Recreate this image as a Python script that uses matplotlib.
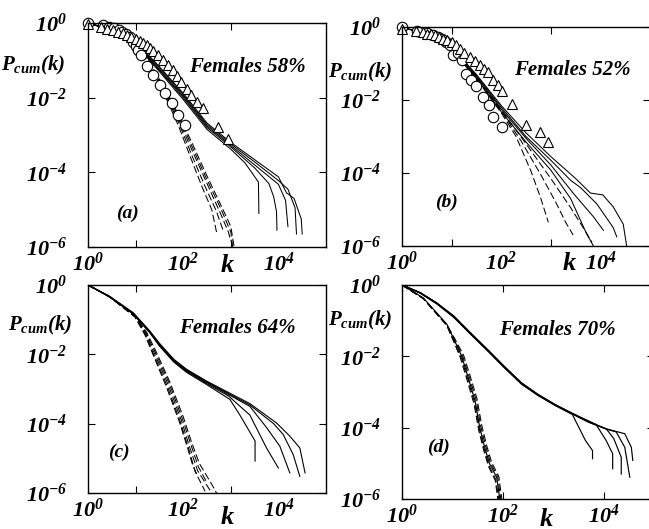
import matplotlib
matplotlib.use('Agg')
import matplotlib.pyplot as plt
from matplotlib.ticker import FixedLocator, NullFormatter
import numpy as np

plt.rcParams['font.family'] = 'Liberation Serif'
plt.rcParams['mathtext.fontset'] = 'custom'
plt.rcParams['mathtext.rm'] = 'Liberation Serif:bold:italic'
plt.rcParams['mathtext.it'] = 'Liberation Serif:bold:italic'
plt.rcParams['mathtext.bf'] = 'Liberation Serif:bold:italic'

# all curves as (log10 k, log10 Pcum) points
a_solid = [
    [(0, 0), (0.5, -0.2), (1, -0.58), (1.5, -1.3), (2, -2.05), (2.5, -2.85), (3, -3.38), (3.3, -3.75), (3.58, -4.26), (3.59, -5.1)],
    [(0, 0), (0.5, -0.2), (1, -0.56), (1.5, -1.27), (2, -2.0), (2.5, -2.8), (3, -3.32), (3.5, -3.88), (3.8, -4.3), (3.9, -4.65), (3.96, -5.05), (3.97, -5.55)],
    [(0, 0), (0.5, -0.19), (1, -0.55), (1.5, -1.24), (2, -1.96), (2.5, -2.76), (3, -3.28), (3.5, -3.8), (4.0, -4.32), (4.15, -4.75), (4.2, -5.45)],
    [(0, 0), (0.5, -0.18), (1, -0.53), (1.5, -1.2), (2, -1.92), (2.5, -2.72), (3, -3.24), (3.5, -3.72), (4.0, -4.22), (4.2, -4.45), (4.35, -4.95), (4.38, -5.65)],
    [(0, 0), (0.5, -0.17), (1, -0.5), (1.5, -1.17), (2, -1.88), (2.5, -2.68), (3, -3.2), (3.5, -3.66), (4.0, -4.12), (4.17, -4.55), (4.33, -4.7), (4.48, -5.25), (4.5, -5.65)],
]
a_dashed = [
    [(0, 0), (0.5, -0.2), (1, -0.62), (1.3, -1.15), (1.6, -1.9), (1.9, -2.75), (2.2, -3.75), (2.4, -4.4), (2.6, -5.0), (2.7, -5.6)],
    [(0, 0), (0.5, -0.2), (1, -0.61), (1.3, -1.12), (1.6, -1.85), (1.9, -2.65), (2.2, -3.6), (2.45, -4.35), (2.7, -5.05), (2.85, -5.6)],
    [(0, 0), (0.5, -0.2), (1, -0.6), (1.3, -1.1), (1.6, -1.8), (1.9, -2.58), (2.2, -3.45), (2.5, -4.3), (2.8, -5.15), (2.95, -5.6), (3.0, -5.85)],
    [(0, 0), (0.5, -0.2), (1, -0.6), (1.3, -1.08), (1.6, -1.76), (1.9, -2.5), (2.2, -3.35), (2.5, -4.2), (2.8, -5.0), (3.0, -5.6), (3.04, -6.0)],
    [(0, 0), (0.5, -0.2), (1, -0.59), (1.3, -1.06), (1.6, -1.72), (1.9, -2.45), (2.2, -3.25), (2.5, -4.1), (2.8, -4.9), (3.0, -5.45), (3.07, -6.0)],
]
a_circles = [(0, 0), (0.32, -0.06), (0.45, -0.1), (0.55, -0.14), (0.65, -0.2), (0.72, -0.25), (0.8, -0.3),
             (0.88, -0.38), (0.95, -0.5), (1.0, -0.62), (1.05, -0.72), (1.12, -0.85), (1.24, -1.16),
             (1.37, -1.39), (1.52, -1.66), (1.62, -1.88), (1.77, -2.15), (1.9, -2.47), (2.03, -2.73)]
a_triangles = [(0, -0.03), (0.28, -0.12), (0.4, -0.16), (0.53, -0.2), (0.62, -0.24), (0.74, -0.28), (0.82, -0.32),
               (0.91, -0.37), (1.0, -0.42), (1.09, -0.48), (1.16, -0.53), (1.23, -0.6), (1.3, -0.67),
               (1.37, -0.74), (1.47, -0.86), (1.58, -1.0), (1.68, -1.13), (1.79, -1.27), (1.88, -1.42),
               (1.96, -1.58), (2.07, -1.77), (2.17, -1.94), (2.3, -2.12), (2.42, -2.29), (2.73, -2.79), (2.95, -3.1)]

b_solid = [
    [(0, 0), (0.5, -0.2), (1, -0.55), (1.5, -1.3), (2, -2.15), (2.5, -2.9), (3, -3.55), (3.5, -4.15), (3.8, -4.55), (4.05, -4.6), (4.26, -4.93), (4.46, -5.4), (4.53, -6.0)],
    [(0, 0), (0.5, -0.2), (1, -0.57), (1.5, -1.33), (2, -2.2), (2.5, -3.0), (3, -3.65), (3.4, -4.2), (3.6, -4.4), (3.93, -4.85), (4.26, -5.5), (4.33, -5.75)],
    [(0, 0), (0.5, -0.21), (1, -0.58), (1.5, -1.36), (2, -2.25), (2.5, -3.05), (3, -3.78), (3.45, -4.55), (3.86, -5.2), (4.06, -5.57)],
    [(0, 0), (0.5, -0.21), (1, -0.6), (1.5, -1.4), (2, -2.32), (2.5, -3.15), (3, -3.92), (3.4, -4.7), (3.72, -5.66), (3.86, -6.0)],
]
b_dashed = [
    [(0, 0), (0.5, -0.22), (1, -0.62), (1.5, -1.42), (2.0, -2.35), (2.3, -3.0), (2.6, -3.95), (2.8, -4.7), (2.95, -5.35)],
    [(0, 0), (0.5, -0.22), (1, -0.61), (1.5, -1.4), (2.0, -2.3), (2.4, -3.12), (2.8, -4.05), (3.1, -4.8), (3.3, -5.35), (3.45, -5.7)],
    [(0, 0), (0.5, -0.21), (1, -0.6), (1.5, -1.38), (2.0, -2.27), (2.5, -3.2), (3.0, -4.15), (3.4, -4.95), (3.7, -5.6), (3.83, -5.9)],
]
b_circles = [(0, 0), (0.3, -0.1), (0.5, -0.16), (0.62, -0.22), (0.72, -0.27), (0.8, -0.32), (0.88, -0.4),
             (0.97, -0.49), (1.03, -0.77), (1.12, -0.72), (1.2, -0.9), (1.3, -1.3), (1.4, -1.45), (1.5, -1.62),
             (1.64, -1.92), (1.75, -2.15), (1.84, -2.47), (2.02, -2.74)]
b_triangles = [(0, -0.05), (0.29, -0.12), (0.42, -0.15), (0.5, -0.18), (0.58, -0.2), (0.66, -0.23), (0.74, -0.27),
               (0.83, -0.32), (0.9, -0.36), (1.0, -0.41), (1.08, -0.5), (1.16, -0.59), (1.26, -0.7),
               (1.37, -0.82), (1.47, -0.93), (1.57, -1.05), (1.66, -1.15), (1.74, -1.23), (1.84, -1.46),
               (1.93, -1.6), (2.01, -1.74), (2.21, -2.1), (2.51, -2.69), (2.78, -2.88), (2.95, -3.15)]

c_solid = [
    [(0, 0), (0.46, -0.35), (0.95, -0.84), (1.3, -1.38), (1.5, -1.76), (1.8, -2.22), (2.07, -2.52), (2.49, -2.87), (2.98, -3.3), (3.19, -3.75), (3.51, -4.5), (3.51, -5.08)],
    [(0, 0), (0.46, -0.35), (0.95, -0.83), (1.3, -1.37), (1.5, -1.74), (1.8, -2.2), (2.07, -2.49), (2.49, -2.84), (2.95, -3.2), (3.4, -3.75), (3.75, -4.7), (4.0, -5.28)],
    [(0, 0), (0.46, -0.34), (0.95, -0.82), (1.3, -1.36), (1.5, -1.72), (1.8, -2.18), (2.07, -2.47), (2.49, -2.81), (2.95, -3.16), (3.4, -3.5), (3.75, -4.11), (4.03, -4.65), (4.24, -5.42)],
    [(0, 0), (0.46, -0.34), (0.95, -0.81), (1.3, -1.34), (1.5, -1.7), (1.8, -2.16), (2.07, -2.45), (2.49, -2.79), (2.95, -3.13), (3.4, -3.46), (3.9, -4.0), (4.1, -4.31), (4.31, -4.89), (4.45, -5.52)],
    [(0, 0), (0.46, -0.33), (0.95, -0.8), (1.3, -1.33), (1.5, -1.68), (1.8, -2.14), (2.07, -2.43), (2.49, -2.77), (2.95, -3.1), (3.4, -3.42), (3.96, -3.98), (4.24, -4.36), (4.45, -4.7), (4.56, -5.42)],
]
c_dashed = [
    [(0, 0), (0.46, -0.35), (0.99, -0.93), (1.2, -1.45), (1.37, -2.02), (1.65, -2.95), (1.92, -3.95), (2.08, -4.65), (2.2, -5.2), (2.3, -5.5)],
    [(0, 0), (0.46, -0.35), (0.99, -0.92), (1.2, -1.42), (1.37, -1.98), (1.66, -2.9), (1.94, -3.95), (2.11, -4.7), (2.25, -5.38), (2.46, -5.95)],
    [(0, 0), (0.46, -0.34), (0.99, -0.91), (1.21, -1.4), (1.39, -1.96), (1.68, -2.86), (1.96, -3.9), (2.13, -4.65), (2.3, -5.35), (2.6, -6.0)],
    [(0, 0), (0.46, -0.34), (0.99, -0.9), (1.22, -1.38), (1.41, -1.94), (1.7, -2.82), (1.98, -3.85), (2.16, -4.6), (2.32, -5.25), (2.5, -5.7)],
    [(0, 0), (0.46, -0.34), (0.99, -0.9), (1.23, -1.36), (1.43, -1.92), (1.72, -2.8), (2.0, -3.8), (2.18, -4.55), (2.34, -5.15), (2.6, -5.75), (2.7, -6.0)],
]

d_solid = [
    [(0, 0), (0.36, -0.23), (0.69, -0.53), (1.03, -0.91), (1.36, -1.38), (1.7, -1.85), (2.03, -2.32), (2.37, -2.78), (2.7, -3.1), (3.04, -3.38), (3.38, -3.63), (3.64, -4.36), (3.78, -4.64), (3.78, -4.87)],
    [(0, 0), (0.36, -0.22), (0.69, -0.52), (1.03, -0.89), (1.36, -1.36), (1.7, -1.83), (2.03, -2.3), (2.37, -2.76), (2.7, -3.08), (3.04, -3.36), (3.38, -3.6), (3.85, -3.91), (4.05, -4.36), (4.18, -4.73), (4.18, -5.15)],
    [(0, 0), (0.36, -0.22), (0.69, -0.51), (1.03, -0.88), (1.36, -1.35), (1.7, -1.82), (2.03, -2.29), (2.37, -2.75), (2.7, -3.07), (3.04, -3.35), (3.38, -3.6), (3.71, -3.83), (4.05, -4.03), (4.2, -4.3), (4.35, -4.83), (4.35, -5.3)],
    [(0, 0), (0.36, -0.21), (0.69, -0.5), (1.03, -0.87), (1.36, -1.34), (1.7, -1.81), (2.03, -2.28), (2.37, -2.74), (2.7, -3.07), (3.04, -3.36), (3.38, -3.61), (3.71, -3.85), (4.05, -4.04), (4.25, -4.12), (4.42, -4.55), (4.52, -5.39)],
    [(0, 0), (0.36, -0.22), (0.69, -0.51), (1.03, -0.9), (1.36, -1.37), (1.7, -1.84), (2.03, -2.31), (2.37, -2.77), (2.7, -3.09), (3.04, -3.37), (3.38, -3.62), (3.71, -3.85), (4.05, -4.03), (4.42, -4.17), (4.55, -4.55), (4.58, -4.92)],
    # steep branch drawn solid
    [(0, 0), (0.42, -0.36), (0.89, -1.1), (1.01, -1.46), (1.18, -1.98), (1.31, -2.58), (1.45, -3.25), (1.54, -3.98), (1.64, -4.55), (1.74, -5.02), (1.88, -5.4), (1.94, -6.0)],
]
d_dashed = [
    [(0, 0), (0.42, -0.38), (0.89, -1.13), (1.0, -1.5), (1.17, -2.02), (1.3, -2.62), (1.44, -3.3), (1.53, -4.02), (1.63, -4.6), (1.73, -5.08), (1.86, -5.45), (1.92, -6.0)],
    [(0, 0), (0.42, -0.37), (0.89, -1.12), (1.02, -1.47), (1.2, -1.98), (1.33, -2.56), (1.47, -3.22), (1.56, -3.95), (1.66, -4.52), (1.76, -5.0), (1.9, -5.38), (1.96, -6.0)],
    [(0, 0), (0.42, -0.37), (0.89, -1.11), (1.03, -1.46), (1.22, -1.96), (1.35, -2.54), (1.49, -3.2), (1.58, -3.92), (1.68, -4.5), (1.78, -4.98), (1.92, -5.36), (1.98, -6.0)],
    [(0, 0), (0.42, -0.38), (0.89, -1.14), (1.01, -1.52), (1.16, -2.05), (1.29, -2.66), (1.43, -3.34), (1.52, -4.06), (1.62, -4.63), (1.72, -5.1), (1.85, -5.48), (1.9, -6.0)],
]

panel_letters = ['(a)', '(b)', '(c)', '(d)']
female_share = ['Females 58%', 'Females 52%', 'Females 64%', 'Females 70%']

W, H = 649, 529
fig = plt.figure(figsize=(W / 100, H / 100), dpi=100)
fig.patch.set_facecolor('white')


def rect(l, r, t, b):
    return [l / W, 1 - b / H, (r - l) / W, (b - t) / H]


def fpos(x, y):
    return x / W, 1 - y / H


panels = [
    dict(box=rect(88, 326, 23, 247), solid=a_solid, dashed=a_dashed, circ=a_circles, tri=a_triangles,
         odd=True, lw=0.75, pcum=(33, 65), fem=(247, 67), let=(127, 213), k=(227, 266)),
    dict(box=rect(402, 650, 27, 246), solid=b_solid, dashed=b_dashed, circ=b_circles, tri=b_triangles,
         odd=True, lw=0.75, pcum=(360, 72), fem=(572, 70), let=(446, 202), k=(569, 264)),
    dict(box=rect(88, 326, 285, 493), solid=c_solid, dashed=c_dashed, circ=None, tri=None,
         odd=True, lw=0.8, pcum=(40, 325), fem=(237, 328), let=(119, 452), k=(227, 517)),
    dict(box=rect(402, 654, 285, 499), solid=d_solid, dashed=d_dashed, circ=None, tri=None,
         odd=False, lw=0.85, pcum=(360, 320), fem=(557, 330), let=(438, 447), k=(546, 519)),
]


def draw(ax, pts, **kw):
    lk, lp = zip(*pts)
    ax.plot(10 ** np.array(lk), 10 ** np.array(lp), **kw)


for i, p in enumerate(panels):
    ax = fig.add_axes(p['box'])
    ax.set_xscale('log')
    ax.set_yscale('log')
    ax.set_xlim(1, 1e5)
    ax.set_ylim(1e-6, 1)
    for line in p['solid']:
        draw(ax, line, color='black', lw=p['lw'])
    for line in p['dashed']:
        draw(ax, line, color='black', lw=0.75, ls=(0, (7, 3)))
    if p['circ'] is not None:
        draw(ax, p['circ'], ls='none', marker='o', ms=7.5, mfc='white', mec='black', mew=0.8, clip_on=False)
        draw(ax, p['tri'], ls='none', marker='^', ms=7.5, mfc='white', mec='black', mew=0.8, clip_on=False)

    # ticks
    ax.yaxis.set_major_locator(FixedLocator([1, 1e-2, 1e-4, 1e-6]))
    ax.yaxis.set_minor_locator(FixedLocator([]))
    ax.set_yticklabels([r'$10^{0}$', r'$10^{-2}$', r'$10^{-4}$', r'$10^{-6}$'])
    ax.tick_params(axis='y', which='major', direction='in', length=5, width=0.8,
                   left=True, right=True, labelsize=16, pad=15)
    ax.xaxis.set_major_locator(FixedLocator([1, 1e2, 1e4]))
    ax.set_xticklabels([r'$10^{0}$', r'$10^{2}$', r'$10^{4}$'])
    if p['odd']:
        ax.xaxis.set_minor_locator(FixedLocator([10, 1e3]))
        ax.xaxis.set_minor_formatter(NullFormatter())
        ax.tick_params(axis='x', which='major', length=0, labelsize=16, pad=4)
        ax.tick_params(axis='x', which='minor', direction='in', length=5, width=0.8, top=True, bottom=True)
    else:
        ax.xaxis.set_minor_locator(FixedLocator([]))
        ax.tick_params(axis='x', which='major', direction='in', length=5, width=0.8,
                       top=True, bottom=True, labelsize=16, pad=4)
    for s in ax.spines.values():
        s.set_linewidth(1.0)

    fx, fy = fpos(*p['pcum'])
    fig.text(fx, fy, r'$P_{cum}(k)$', fontsize=15, ha='center', va='center')
    fx, fy = fpos(*p['fem'])
    fig.text(fx, fy, female_share[i], fontsize=15, fontweight='bold', style='italic', ha='center', va='center')
    fx, fy = fpos(*p['let'])
    fig.text(fx, fy, panel_letters[i], fontsize=14, fontweight='bold', style='italic', ha='center', va='center')
    fx, fy = fpos(*p['k'])
    fig.text(fx, fy, 'k', fontsize=19, fontweight='bold', style='italic', ha='center', va='center')

plt.savefig('out.png', dpi=100, facecolor='white')
